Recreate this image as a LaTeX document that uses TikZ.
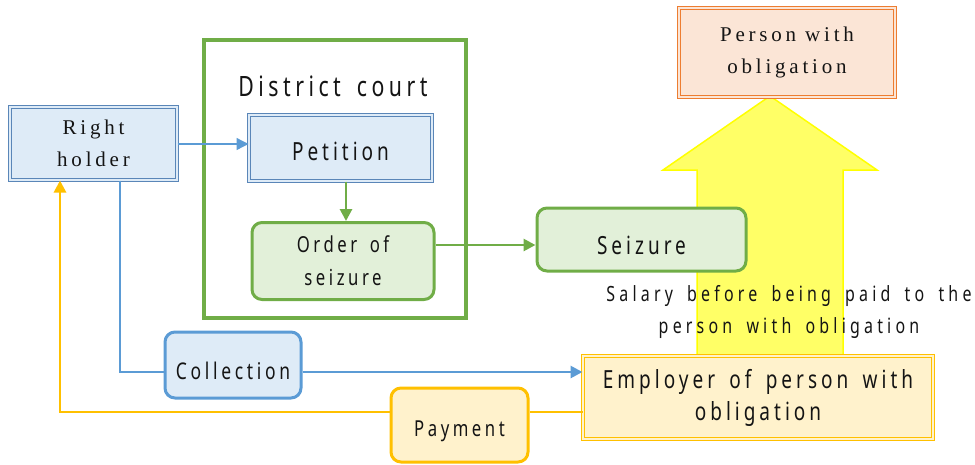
\documentclass[tikz,border=0pt]{standalone}
\usepackage{fontspec}
\usetikzlibrary{arrows.meta,calc}
\newfontfamily\serifsp{Liberation Serif}[LetterSpace=18]
\newfontfamily\sanssp{Noto Sans}[FakeStretch=0.76,LetterSpace=16,WordSpace=1.6]
\newfontfamily\salsp{Noto Sans}[FakeStretch=0.76,LetterSpace=20,WordSpace=1.7]
\newcommand\droptext[2]{\smash{\raisebox{-#1}{#2}}}
\definecolor{bluefill}{HTML}{DEEBF7}
\definecolor{blueline}{HTML}{5B9BD5}
\definecolor{bluedark}{HTML}{5A86B8}
\definecolor{greenline}{HTML}{70AD47}
\definecolor{greenfill}{HTML}{E2F0D9}
\definecolor{orangeline}{HTML}{ED7D31}
\definecolor{orangefill}{HTML}{FBE5D6}
\definecolor{goldline}{HTML}{FFC000}
\definecolor{goldfill}{HTML}{FFF2CC}
\definecolor{arrowfill}{HTML}{FFFF66}
\definecolor{arrowline}{HTML}{FFFF00}
\definecolor{txt}{HTML}{141414}
\tikzset{
  dbox/.style={draw=#1, double distance=2pt, line width=1pt, inner sep=0pt, align=center, text=txt},
  rbox/.style={draw=#1, rounded corners=10pt, line width=3pt, inner sep=0pt, align=center, text=txt},
  tip/.style={-{Triangle[length=12pt,width=12pt]}},
}
\begin{document}
\begin{tikzpicture}[x=1pt,y=-1pt]
\useasboundingbox (0,0) rectangle (975,464);
% big yellow arrow
\filldraw[fill=arrowfill, draw=arrowline, line width=1.5pt]
  (697,355) -- (697,170) -- (663,170) -- (770,96) -- (877,170) -- (843,170) -- (843,355) -- cycle;
% district court
\node[draw=greenline, line width=3.5pt, minimum width=262pt, minimum height=278pt, inner sep=0pt] (court) at (335,179) {};
\node[text=txt, font=\sanssp\fontsize{28}{32}\selectfont] (courtlbl) at (333,86) {District court};
% nodes
\node[dbox=bluedark, double=bluefill, fill=bluefill, minimum width=167pt, minimum height=73pt,
  font=\serifsp\fontsize{21}{32}\selectfont] (rh) at (93.5,143.5) {Right\\holder};
\node[dbox=bluedark, double=bluefill, fill=bluefill, minimum width=183pt, minimum height=66pt,
  font=\sanssp\fontsize{25}{32}\selectfont] (pet) at (340.5,148) {\droptext{12pt}{Petition}};
\node[rbox=greenline, fill=greenfill, minimum width=182pt, minimum height=77pt,
  font=\sanssp\fontsize{22}{33}\selectfont] (ord) at (343,261) {Order of\\seizure};
\node[rbox=greenline, fill=greenfill, minimum width=209pt, minimum height=63pt,
  font=\sanssp\fontsize{25}{32}\selectfont] (sei) at (641.5,239.5) {\droptext{15pt}{Seizure}};
\node[dbox=orangeline, double=orangefill, fill=orangefill, minimum width=216pt, minimum height=89pt,
  font=\serifsp\fontsize{21}{32}\selectfont] (per) at (787,52) {Person with\\obligation};
\node[text=txt, align=center, font=\salsp\fontsize{21}{32}\selectfont] (sal) at (789,312) {Salary before being paid to the\\person with obligation};
\node[dbox=goldline, double=goldfill, fill=goldfill, minimum width=350pt, minimum height=83pt,
  font=\sanssp\fontsize{25}{32}\selectfont] (emp) at (758,397.5) {Employer of person with\\obligation};
\node[rbox=blueline, fill=bluefill, minimum width=136pt, minimum height=66pt,
  font=\sanssp\fontsize{23}{32}\selectfont] (col) at (233,365) {\droptext{14pt}{Collection}};
\node[rbox=goldline, fill=goldfill, minimum width=137pt, minimum height=74pt,
  font=\sanssp\fontsize{22}{32}\selectfont] (pay) at (459.5,425) {\droptext{11pt}{Payment}};
% connectors
\draw[blueline, line width=1.3pt, tip] (rh.east |- 0,144) -- (pet.west |- 0,144);
\draw[greenline, line width=2.8pt, tip] (pet.south -| 346,0) -- (ord.north -| 346,0);
\draw[greenline, line width=2.8pt, tip] (ord.east |- 0,245) -- (sei.west |- 0,245);
\draw[blueline, line width=2.8pt] (rh.south -| 120,0) -- (120,372) -- (col.west |- 0,372);
\draw[blueline, line width=2.8pt, tip] (col.east |- 0,372) -- (emp.west |- 0,372);
\draw[goldline, line width=2.8pt] (emp.west |- 0,412) -- (pay.east |- 0,412);
\draw[goldline, line width=2.8pt, tip] (pay.west |- 0,412) -- (60,412) -- (rh.south -| 60,0);
\end{tikzpicture}
\end{document}
